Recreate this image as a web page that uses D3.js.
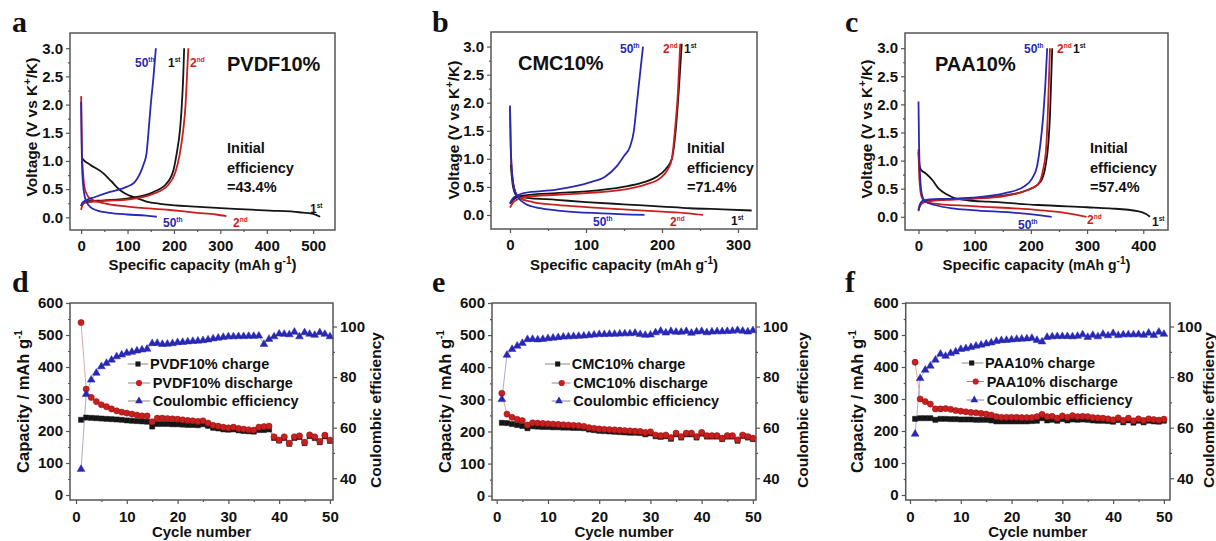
<!DOCTYPE html>
<html><head><meta charset="utf-8">
<script src="https://cdn.jsdelivr.net/npm/d3@7"></script>
<style>
body{margin:0;background:#fff}
svg{display:block}
text{font-family:"Liberation Sans",Arial,sans-serif;font-weight:bold;fill:#111}
</style>
</head><body><script>
// ---------------- DATA ----------------
// Panel a: PVDF10% voltage profiles [capacity mAh/g, voltage V]
const aCh1  = [[0,0.2],[3,0.26],[10,0.28],[50,0.3],[105,0.34],[156,0.45],[184,0.6],[199,0.84],[206,1.14],[213,1.55],[217,2.0],[220,2.5],[222,3.0]];
const aDis1 = [[2,1.05],[5,1.02],[20,0.93],[48,0.78],[65,0.64],[84,0.48],[100,0.4],[120,0.34],[141,0.28],[170,0.24],[191,0.22],[263,0.18],[330,0.15],[407,0.12],[470,0.09],[500,0.06],[515,0.01]];
const aCh2  = [[0,0.13],[3,0.22],[10,0.26],[50,0.29],[105,0.32],[156,0.42],[186,0.56],[203,0.8],[212,1.1],[220,1.55],[225,2.0],[228,2.5],[231,3.0]];
const aDis2 = [[0,2.15],[1,1.6],[2,1.1],[4,0.8],[6,0.6],[10,0.45],[20,0.33],[48,0.25],[100,0.19],[191,0.13],[250,0.08],[290,0.05],[313,0.02]];
const aCh50 = [[0,0.2],[3,0.26],[10,0.3],[30,0.36],[62,0.45],[98,0.54],[115,0.62],[127,0.78],[135,0.95],[141,1.14],[145,1.5],[150,2.0],[156,2.5],[161,3.0]];
const aDis50= [[0,2.05],[1,1.3],[2,0.9],[4,0.6],[7,0.4],[12,0.27],[20,0.18],[35,0.12],[60,0.08],[100,0.05],[140,0.03],[163,0.01]];
// Panel b: CMC10%
const bCh1  = [[0,0.2],[4,0.27],[10,0.32],[20,0.35],[61,0.39],[100,0.42],[149,0.5],[175,0.58],[193,0.68],[205,0.82],[213,1.0],[218,1.5],[222,2.2],[226,3.05]];
const bDis1 = [[1,0.9],[4,0.5],[9,0.34],[20,0.31],[61,0.27],[100,0.23],[149,0.19],[200,0.15],[237,0.12],[280,0.1],[318,0.08]];
const bCh2  = [[0,0.13],[4,0.22],[10,0.28],[20,0.32],[61,0.36],[100,0.39],[149,0.45],[178,0.54],[198,0.66],[208,0.82],[213,1.0],[217,1.5],[221,2.2],[224,3.05]];
const bDis2 = [[0,1.9],[1,1.2],[3,0.7],[6,0.45],[13,0.3],[30,0.23],[61,0.18],[100,0.14],[149,0.1],[200,0.06],[235,0.03],[254,0.0]];
const bCh50 = [[0,0.2],[4,0.3],[10,0.35],[18,0.39],[61,0.45],[105,0.58],[125,0.68],[140,0.86],[150,1.05],[158,1.22],[163,1.5],[167,2.0],[171,2.5],[175,3.0]];
const bDis50= [[0,1.95],[1,1.2],[3,0.7],[6,0.45],[10,0.33],[20,0.2],[40,0.12],[70,0.07],[120,0.03],[177,0.0]];
// Panel c: PAA10%
const cCh1  = [[0,0.12],[3,0.22],[10,0.27],[20,0.29],[50,0.31],[95,0.33],[154,0.38],[195,0.48],[217,0.62],[226,0.9],[231,1.3],[234,1.8],[236,2.4],[238,3.0]];
const cDis1 = [[0,1.15],[2,0.9],[5,0.83],[12,0.78],[25,0.65],[36,0.5],[50,0.4],[65,0.33],[90,0.29],[124,0.27],[213,0.21],[300,0.17],[340,0.15],[390,0.1],[405,0.05],[412,0.0]];
const cCh2  = [[0,0.1],[3,0.2],[10,0.26],[20,0.28],[50,0.3],[95,0.32],[154,0.37],[190,0.46],[213,0.58],[222,0.85],[227,1.2],[230,1.8],[232,2.4],[234,3.0]];
const cDis2 = [[0,1.2],[1,0.8],[3,0.5],[6,0.34],[12,0.27],[24,0.24],[95,0.19],[213,0.12],[260,0.07],[284,0.03],[299,0.0]];
const cCh50 = [[0,0.12],[3,0.23],[8,0.29],[20,0.31],[50,0.32],[95,0.34],[154,0.42],[188,0.54],[202,0.68],[211,0.9],[217,1.3],[222,1.8],[226,2.4],[229,3.0]];
const cDis50= [[0,2.05],[1,1.3],[3,0.7],[6,0.4],[12,0.27],[29,0.21],[60,0.15],[95,0.12],[184,0.06],[237,0.0]];

// Cycling data
const cycles = [1,2,3,4,5,6,7,8,9,10,11,12,13,14,15,16,17,18,19,20,21,22,23,24,25,26,27,28,29,30,31,32,33,34,35,36,37,38,39,40,41,42,43,44,45,46,47,48,49,50];
const dCharge = [235,242,241,240,239,238,237,236,235,233,232,231,230,229,214,222,222,222,221,221,220,219,219,218,221,216,210,208,205,204,205,202,200,199,198,203,203,205,178,170,178,160,178,181,162,184,178,165,183,169];
const dDischarge = [539,331,305,292,282,276,269,263,259,256,253,250,247,247,229,240,240,239,238,237,235,233,232,230,232,225,218,215,212,210,212,208,206,204,203,212,214,215,182,172,182,162,182,185,165,188,182,168,187,172];
const dCE = [43.6,73.2,78.9,81.6,84.2,85.5,86.8,88.1,88.8,89.5,89.9,90.4,90.8,91.1,93.3,93.4,93.0,93.1,93.3,93.7,93.8,94.0,94.2,94.3,94.5,94.8,95.2,95.5,95.8,96.0,96.0,96.1,96.1,96.2,96.2,96.3,93.0,95.0,96.0,97.1,97.0,96.8,97.8,96.0,97.6,97.0,96.6,97.6,97.0,96.0];
const eCharge = [227,226,223,220,217,210,216,215,214,214,213,213,212,212,211,211,210,206,204,202,201,200,199,198,197,196,196,195,191,194,185,183,185,177,191,181,191,191,181,193,184,184,184,176,184,184,171,186,181,176];
const eDischarge = [319,254,244,238,234,220,227,226,225,224,223,222,221,220,219,218,216,212,210,208,207,206,205,204,203,202,201,200,197,199,189,187,189,181,195,184,195,195,184,197,187,187,187,179,187,187,174,189,184,179];
const eCE = [71.2,88.7,91.0,92.3,93.4,94.9,95.0,94.8,95.0,95.3,95.5,95.7,95.9,96.0,96.1,96.2,96.3,96.5,96.7,96.9,96.9,97.0,97.0,97.1,97.2,97.2,97.4,96.9,96.6,96.7,97.6,98.2,97.5,98.1,97.8,97.8,98.1,97.4,97.9,98.1,97.6,97.9,98.0,98.0,98.1,98.2,98.5,98.2,97.9,98.4];
const fCharge = [238,240,240,240,235,238,238,237,237,236,236,236,235,235,235,233,230,230,230,230,230,230,230,231,232,240,233,235,232,237,233,236,235,236,235,233,232,232,231,229,234,227,233,226,232,227,232,230,229,232];
const fDischarge = [415,300,292,284,269,269,270,268,264,262,260,258,257,255,253,250,245,243,243,243,243,242,242,242,245,252,245,246,240,247,243,248,245,246,245,242,241,240,238,235,241,233,240,232,238,233,238,236,234,237];
const fCE = [57.5,79.5,82.8,84.4,86.8,89.1,88.3,89.4,90.0,91.0,91.3,91.8,92.3,92.7,93.2,93.6,94.2,94.5,94.6,94.8,95.0,95.1,95.2,95.4,94.6,94.0,95.8,96.0,96.1,96.1,96.1,96.0,96.2,96.8,95.8,96.6,96.0,97.0,96.4,97.3,96.5,96.8,96.8,96.8,96.9,96.6,97.4,96.5,97.8,97.0];

// Tick values
const vMajor = [0,0.5,1.0,1.5,2.0,2.5,3.0];
const vMinor = [0.25,0.75,1.25,1.75,2.25,2.75];
const cycMajor = [0,10,20,30,40,50];
const cycMinor = [5,15,25,35,45];
const capMajor = [0,100,200,300,400,500,600];
const capMinor = [50,150,250,350,450,550];
const ceMajor = [40,60,80,100];
const ceMinor = [50,70,90];

// ---------------- DRAW ----------------
const W=1216,H=541;
const svg=d3.select('body').append('svg').attr('width',W).attr('height',H);
svg.append('rect').attr('width',W).attr('height',H).attr('fill','#fff');
const K='#151515', R='#c91f1f', B='#2828b4';
const AX='#555';

function styleAxis(sel, fs){
  sel.select('.domain').remove();
  sel.selectAll('.tick line').attr('stroke',AX).attr('stroke-width',1.2);
  sel.selectAll('.tick text').style('font-size',fs+'px').attr('fill','#111');
}
function addAxis(g, axis, tr, fs){
  const s=g.append('g').attr('transform',tr).call(axis);
  styleAxis(s, fs); return s;
}
function ord(g, x, y, base, sup, color){
  const t=g.append('text').attr('x',x).attr('y',y).style('fill',color).style('font-size','12px');
  t.append('tspan').text(base);
  t.append('tspan').attr('dy',-5).style('font-size','6.5px').text(sup);
}
function panelLetter(x,y,l){
  svg.append('text').attr('x',x).attr('y',y).text(l)
    .style('font-family','"Liberation Serif","Times New Roman",serif').style('font-size','30px').style('font-weight','bold');
}

function topPanel(o){
  const g=svg.append('g');
  const x=d3.scaleLinear().domain(o.xd).range([o.L,o.R]);
  const y=d3.scaleLinear().domain(o.yd).range([o.B,o.T]);
  addAxis(g, d3.axisBottom(x).tickValues(o.xt).tickSize(4).tickPadding(6).tickFormat(d3.format('d')), `translate(0,${o.B})`, 15);
  addAxis(g, d3.axisBottom(x).tickValues(o.xm).tickSize(2).tickFormat(''), `translate(0,${o.B})`, 15);
  addAxis(g, d3.axisLeft(y).tickValues(vMajor).tickSize(4).tickPadding(3).tickFormat(d3.format('.1f')), `translate(${o.L},0)`, 15);
  addAxis(g, d3.axisLeft(y).tickValues(vMinor).tickSize(2).tickFormat(''), `translate(${o.L},0)`, 15);
  const line=d3.line().x(d=>x(d[0])).y(d=>y(d[1])).curve(d3.curveMonotoneX);
  o.curves.forEach(c=>{
    g.append('path').attr('d',line(c.data)).attr('fill','none').attr('stroke',c.color).attr('stroke-width',1.8);
  });
  g.append('rect').attr('x',o.L).attr('y',o.T).attr('width',o.R-o.L).attr('height',o.B-o.T)
    .attr('fill','none').attr('stroke',AX).attr('stroke-width',1.5);
  // titles
  const xt=g.append('text').attr('x',(o.L+o.R)/2).attr('y',270).attr('text-anchor','middle').style('font-size','15px');
  xt.append('tspan').text('Specific capacity ');
  xt.append('tspan').style('font-size','14px').text('(mAh g');
  xt.append('tspan').attr('dy',-6).style('font-size','10px').text('-1');
  xt.append('tspan').attr('dy',6).text(')');
  const yt=g.append('text').attr('transform',`translate(${o.ytx},${o.yty}) rotate(-90)`).attr('text-anchor','middle').style('font-size','15.5px');
  yt.append('tspan').text('Voltage (V vs K');
  yt.append('tspan').attr('dy',-6).style('font-size','11px').text('+');
  yt.append('tspan').attr('dy',6).text('/K)');
  // name
  g.append('text').attr('x',o.nx).attr('y',o.ny).style('font-size','20px').text(o.name);
  ['Initial','efficiency',o.eff].forEach((s,i)=>{
    g.append('text').attr('x',o.ex).attr('y',o.ey+i*19.5).style('font-size','14.5px').text(s);
  });
  o.labels.forEach(l=>ord(g,l[0],l[1],l[2],l[3],l[4]));
}

topPanel({L:70,R:335,T:33,B:230,xd:[-24,547],yd:[-0.225,3.27],xt:[0,100,200,300,400,500],xm:[50,150,250,350,450],
  curves:[{data:aCh1,color:K},{data:aDis1,color:K},{data:aCh2,color:R},{data:aDis2,color:R},{data:aCh50,color:B},{data:aDis50,color:B}],
  ytx:37,yty:127,name:'PVDF10%',nx:227,ny:71,eff:'=43.4%',ex:227,ey:153,
  labels:[[135,67,'50','th',B],[168,67,'1','st',K],[190,67,'2','nd',R],[310,213,'1','st',K],[233,226.5,'2','nd',R],[163,226.5,'50','th',B]]});
topPanel({L:491,R:757,T:32,B:229,xd:[-25,325],yd:[-0.25,3.26],xt:[0,100,200,300],xm:[50,150,250],
  curves:[{data:bCh1,color:K},{data:bDis1,color:K},{data:bCh2,color:R},{data:bDis2,color:R},{data:bCh50,color:B},{data:bDis50,color:B}],
  ytx:459,yty:130,name:'CMC10%',nx:518,ny:70,eff:'=71.4%',ex:687,ey:153,
  labels:[[620,52.5,'50','th',B],[663,52.5,'2','nd',R],[684,52.5,'1','st',K],[593,226,'50','th',B],[670,226,'2','nd',R],[731,224.5,'1','st',K]]});
topPanel({L:905,R:1168,T:33,B:230,xd:[-24,444],yd:[-0.235,3.27],xt:[0,100,200,300,400],xm:[50,150,250,350],
  curves:[{data:cCh1,color:K},{data:cDis1,color:K},{data:cCh2,color:R},{data:cDis2,color:R},{data:cCh50,color:B},{data:cDis50,color:B}],
  ytx:872,yty:129,name:'PAA10%',nx:935,ny:71,eff:'=57.4%',ex:1090,ey:153,
  labels:[[1024,53,'50','th',B],[1057,53,'2','nd',R],[1073,53,'1','st',K],[1018,229,'50','th',B],[1087,224,'2','nd',R],[1152,226,'1','st',K]]});

function botPanel(o){
  const g=svg.append('g');
  const x=d3.scaleLinear().domain(o.xd).range([o.L,o.R]);
  const y=d3.scaleLinear().domain(o.yd).range([o.B,o.T]);
  const y2=d3.scaleLinear().domain(o.y2d).range([o.B,o.T]);
  addAxis(g, d3.axisBottom(x).tickValues(cycMajor).tickSize(4).tickPadding(7).tickFormat(d3.format('d')), `translate(0,${o.B})`, 15);
  addAxis(g, d3.axisBottom(x).tickValues(cycMinor).tickSize(2).tickFormat(''), `translate(0,${o.B})`, 15);
  addAxis(g, d3.axisLeft(y).tickValues(capMajor.filter(v=>v<=o.yd[1])).tickSize(4).tickPadding(3).tickFormat(d3.format('d')), `translate(${o.L},0)`, 15);
  addAxis(g, d3.axisLeft(y).tickValues(capMinor.filter(v=>v<=o.yd[1])).tickSize(2).tickFormat(''), `translate(${o.L},0)`, 15);
  addAxis(g, d3.axisRight(y2).tickValues(ceMajor).tickSize(4).tickPadding(3).tickFormat(d3.format('d')), `translate(${o.R},0)`, 15);
  addAxis(g, d3.axisRight(y2).tickValues(ceMinor).tickSize(2).tickFormat(''), `translate(${o.R},0)`, 15);
  const series=[
    {v:o.ch, sc:y, col:K, lc:'#777', sym:d3.symbolSquare, size:26},
    {v:o.dis, sc:y, col:R, lc:'#d9a0a0', sym:d3.symbolCircle, size:30},
    {v:o.ce, sc:y2, col:B, lc:'#a0a0d0', sym:d3.symbolTriangle, size:26}
  ];
  series.forEach(s=>{
    const pts=cycles.map((c,i)=>[c,s.v[i]]);
    g.append('path').attr('d',d3.line().x(d=>x(d[0])).y(d=>s.sc(d[1]))(pts))
      .attr('fill','none').attr('stroke',s.lc).attr('stroke-width',0.9);
  });
  series.forEach(s=>{
    const pts=cycles.map((c,i)=>[c,s.v[i]]);
    g.selectAll(null).data(pts).join('path')
      .attr('transform',d=>`translate(${x(d[0])},${s.sc(d[1])})`)
      .attr('d',d3.symbol().type(s.sym).size(s.size)())
      .attr('fill',s.col).attr('stroke',s.col==R?'#8a1010':s.col).attr('stroke-width',0.5);
  });
  // legend
  const names=[o.name+' charge',o.name+' discharge','Coulombic efficiency'];
  series.forEach((s,i)=>{
    const lg=o.leg[i];
    g.append('line').attr('x1',lg[0]).attr('x2',lg[1]).attr('y1',lg[3]-5).attr('y2',lg[3]-5).attr('stroke','#888').attr('stroke-width',1);
    g.append('path').attr('transform',`translate(${lg[2]},${lg[3]-5})`).attr('d',d3.symbol().type(s.sym).size(s.size)()).attr('fill',s.col);
    g.append('text').attr('x',lg[4]).attr('y',lg[3]).style('font-size','14.5px').text(names[i]);
  });
  g.append('rect').attr('x',o.L).attr('y',o.T).attr('width',o.R-o.L).attr('height',o.B-o.T)
    .attr('fill','none').attr('stroke',AX).attr('stroke-width',1.5);
  g.append('text').attr('x',(o.L+o.R)/2).attr('y',537).attr('text-anchor','middle').style('font-size','15px').text('Cycle number');
  const yt=g.append('text').attr('transform',`translate(${o.ytx},${(o.T+o.B)/2}) rotate(-90)`).attr('text-anchor','middle').style('font-size','16.5px');
  yt.append('tspan').text('Capacity / mAh g');
  yt.append('tspan').attr('dy',-7).style('font-size','10px').text('-1');
  g.append('text').attr('transform',`translate(${o.y2tx},410) rotate(-90)`).attr('text-anchor','middle').style('font-size','15.5px').text('Coulombic efficiency');
}

botPanel({L:70,R:333,T:303,B:500,xd:[-1.18,50.6],yd:[-15.6,600],y2d:[31.4,109.3],ch:dCharge,dis:dDischarge,ce:dCE,name:'PVDF10%',
  ytx:29,y2tx:381,
  leg:[[127.7,148.3,138,369,150],[128,150,139,388,152.7],[128,150,139,406,152.7]]});
botPanel({L:492,R:756,T:303,B:500,xd:[-0.92,50.6],yd:[-13.4,600],y2d:[31.4,109.3],ch:eCharge,dis:eDischarge,ce:eCE,name:'CMC10%',
  ytx:451,y2tx:808,
  leg:[[545,570,557.7,369,571.7],[551.7,570.7,561.7,388,573.3],[551.7,570.7,559,406,573.3]]});
botPanel({L:905.7,R:1170,T:303,B:500,xd:[-0.85,51.2],yd:[-15.6,600],y2d:[31.4,109.3],ch:fCharge,dis:fDischarge,ce:fCE,name:'PAA10%',
  ytx:863,y2tx:1214,
  leg:[[961.7,983.3,971.7,368,985],[966.7,984,975.7,386.5,986.7],[966.7,984,974.3,405,986.7]]});

panelLetter(12,32,'a'); panelLetter(432,32,'b'); panelLetter(845,32,'c');
panelLetter(12,292,'d'); panelLetter(432,292,'e'); panelLetter(845,292,'f');
</script></body></html>
